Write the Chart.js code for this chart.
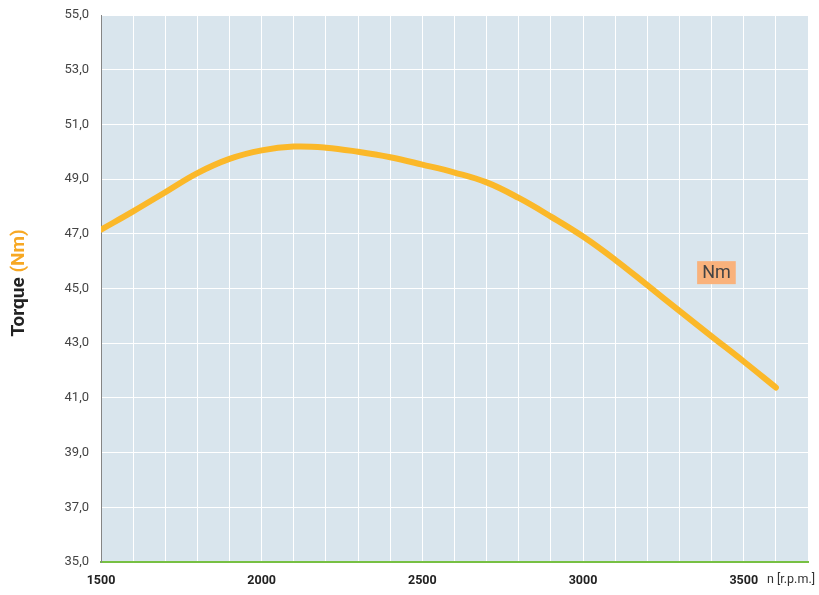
<!DOCTYPE html>
<html>
<head>
<meta charset="utf-8">
<script src="https://cdn.jsdelivr.net/npm/chart.js@4/dist/chart.umd.min.js"></script>
<style>
  html, body { margin: 0; padding: 0; background: #fff; }
  #wrap { width: 819px; height: 595px; }
</style>
</head>
<body>
<div id="wrap"><canvas id="torqueChart" width="819" height="595"></canvas></div>
<script>
// Engine speed (r.p.m.) and torque (Nm)
const rpm = [1500, 1600, 1700, 1800, 1900, 2000, 2100, 2200, 2300, 2400, 2500,
             2600, 2700, 2800, 2900, 3000, 3100, 3200, 3300, 3400, 3500, 3600];
const torque = [47.15, 47.82, 48.52, 49.22, 49.74, 50.05, 50.19, 50.15, 50.0, 49.8, 49.53,
                49.24, 48.88, 48.31, 47.63, 46.9, 46.05, 45.12, 44.18, 43.25, 42.33, 41.38];
const xLabeled = [1500, 2000, 2500, 3000, 3500];
const seriesName = 'Nm';

const plotBg = '#d9e5ed';
const lineColor = '#fbb829';

// Plugin: plot background, axis title, unit label and the little "Nm" legend box
const decorations = {
    id: 'decorations',
    beforeDraw(chart) {
        const { ctx, chartArea: a } = chart;
        ctx.save();
        ctx.fillStyle = plotBg;
        ctx.fillRect(a.left, a.top, a.right - a.left, a.bottom - a.top);
        ctx.restore();
    },
    afterDraw(chart) {
        const { ctx } = chart;
        ctx.save();

        // rotated y title in two colours
        ctx.translate(19, 283);
        ctx.rotate(-Math.PI / 2);
        ctx.font = 'bold 19px Roboto';
        ctx.textBaseline = 'middle';
        const part1 = 'Torque ';
        const part2 = '(Nm)';
        const w1 = ctx.measureText(part1).width;
        const w2 = ctx.measureText(part2).width;
        let x0 = -(w1 + w2) / 2;
        ctx.fillStyle = '#222';
        ctx.textAlign = 'left';
        ctx.fillText(part1, x0, 0);
        ctx.fillStyle = '#f7a823';
        ctx.fillText(part2, x0 + w1, 0);
        ctx.restore();

        // unit label at the end of the x axis
        ctx.save();
        ctx.font = '12.5px Roboto';
        ctx.fillStyle = '#333';
        ctx.textAlign = 'left';
        ctx.textBaseline = 'middle';
        ctx.fillText('n [r.p.m.]', 767, 580);
        ctx.restore();

        // legend box
        ctx.save();
        const xs = chart.scales.x, ys = chart.scales.y;
        const bx = xs.getPixelForValue(3355), by = ys.getPixelForValue(46.0);
        ctx.font = '18px Roboto';
        const tw = ctx.measureText(seriesName).width;
        ctx.fillStyle = '#f9b27c';
        ctx.fillRect(bx, by, tw + 10, 23);
        ctx.fillStyle = '#444';
        ctx.textBaseline = 'middle';
        ctx.textAlign = 'left';
        ctx.fillText(seriesName, bx + 5, by + 12.5);
        ctx.restore();
    }
};

const points = rpm.map((r, i) => ({ x: r, y: torque[i] }));

new Chart(document.getElementById('torqueChart').getContext('2d'), {
    type: 'line',
    data: {
        datasets: [{
            label: seriesName,
            data: points,
            borderColor: lineColor,
            borderWidth: 6,
            borderCapStyle: 'round',
            borderJoinStyle: 'round',
            pointRadius: 0,
            fill: false,
            tension: 0.4
        }]
    },
    options: {
        responsive: false,
        animation: false,
        layout: { padding: { top: 15, right: 11, left: 0, bottom: 0 } },
        plugins: {
            legend: { display: false },
            tooltip: { enabled: false }
        },
        scales: {
            x: {
                type: 'linear',
                min: 1500,
                max: 3700,
                afterFit(scale) {
                    scale.height = 33;
                    scale.paddingLeft = 0;
                    scale.paddingRight = 0;
                },
                grid: { color: '#ffffff', lineWidth: 1, drawTicks: false },
                border: { color: '#77c043', width: 2 },
                ticks: {
                    stepSize: 100,
                    autoSkip: false,
                    maxRotation: 0,
                    padding: 11,
                    color: '#222',
                    font: { family: 'Roboto', size: 12.5, weight: 'bold' },
                    callback: v => xLabeled.includes(v) ? String(v) : ''
                }
            },
            y: {
                min: 35,
                max: 55,
                afterFit(scale) {
                    scale.width = 101;
                    scale.paddingTop = 0;
                    scale.paddingBottom = 0;
                },
                grid: { color: '#ffffff', lineWidth: 1, drawTicks: false },
                border: { color: '#858585', width: 1 },
                ticks: {
                    stepSize: 2,
                    padding: 12,
                    color: '#444',
                    font: { family: 'Roboto', size: 13 },
                    callback: v => v.toFixed(1).replace('.', ',')
                }
            }
        }
    },
    plugins: [decorations]
});
</script>
</body>
</html>
